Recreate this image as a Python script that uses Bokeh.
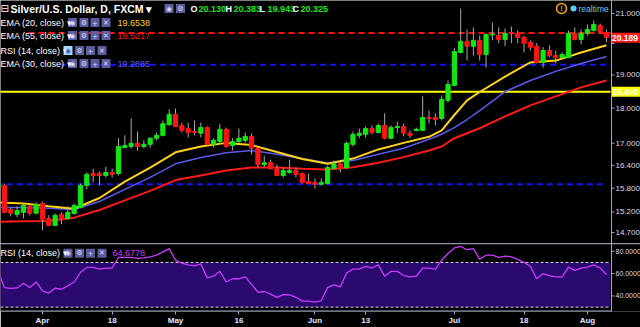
import numpy as np
import pandas as pd
from bokeh.plotting import figure
from bokeh.layouts import column
from bokeh.models import (Range1d, FixedTicker, Span, BoxAnnotation, Label,
                          ColumnDataSource)
from bokeh.embed import file_html
from bokeh.resources import INLINE

# ---------------- data ----------------
dates = pd.bdate_range("2016-03-23", "2016-08-04")

opens = [15.82, 15.87, 15.26, 15.14, 15.19, 15.34, 15.17, 15.41, 15.04, 14.87,
         15.14, 15.04, 15.16, 15.31, 15.87, 16.18, 16.18, 16.13, 16.21, 16.18,
         16.88, 16.91, 17.00, 16.91, 16.97, 17.14, 17.22, 17.52, 17.82, 17.50,
         17.41, 17.33, 17.28, 17.44, 16.97, 17.05, 17.39, 16.94, 17.05, 17.08,
         17.19, 16.86, 16.42, 16.47, 16.31, 16.13, 16.21, 16.26, 16.18, 15.97,
         15.95, 15.90, 15.92, 16.31, 16.44, 16.34, 16.97, 17.22, 17.25, 17.41,
         17.30, 17.50, 17.14, 17.44, 17.47, 17.28, 17.36, 17.36, 17.73, 17.73,
         17.70, 18.23, 18.68, 19.71, 20.07, 19.91, 20.10, 19.64, 20.28, 20.26,
         20.13, 20.36, 20.33, 20.20, 20.04, 19.91, 19.39, 19.77, 19.61, 19.55,
         19.55, 20.33, 20.13, 20.33, 20.43, 20.59, 20.36]
highs = [15.97, 15.92, 15.31, 15.34, 15.41, 15.41, 15.44, 15.46, 15.12, 15.16,
         15.19, 15.34, 15.41, 15.92, 16.21, 16.31, 16.23, 16.36, 16.31, 17.14,
         17.22, 17.70, 17.33, 17.08, 17.16, 17.30, 17.64, 17.96, 17.99, 17.58,
         17.58, 17.64, 17.58, 17.47, 17.14, 17.55, 17.44, 17.14, 17.41, 17.30,
         17.28, 16.88, 16.66, 16.55, 16.42, 16.34, 16.55, 16.34, 16.21, 16.18,
         16.05, 16.05, 16.39, 16.53, 16.47, 17.05, 17.33, 17.41, 17.47, 17.50,
         17.55, 17.85, 17.50, 17.61, 17.55, 17.36, 17.44, 18.35, 17.93, 17.85,
         18.38, 18.83, 19.85, 21.17, 20.46, 20.53, 20.26, 20.33, 20.69, 20.53,
         20.49, 20.56, 20.43, 20.26, 20.10, 20.01, 19.88, 19.94, 19.77, 19.71,
         20.43, 20.53, 20.46, 20.63, 20.76, 20.66, 20.46]
lows = [15.77, 15.17, 15.09, 15.07, 15.04, 15.12, 15.14, 14.75, 14.85, 14.85,
        14.90, 15.02, 15.14, 15.29, 15.77, 15.95, 15.87, 16.08, 16.08, 16.13,
        16.86, 16.86, 16.80, 16.86, 16.88, 17.08, 17.19, 17.50, 17.47, 17.30,
        17.16, 17.22, 17.16, 16.94, 16.88, 17.02, 16.88, 16.80, 17.00, 17.02,
        16.69, 16.34, 16.36, 16.29, 16.13, 16.08, 16.18, 16.08, 15.92, 15.92,
        15.79, 15.87, 15.90, 16.31, 16.21, 16.31, 16.91, 17.14, 17.16, 17.25,
        17.28, 17.11, 17.11, 17.28, 17.19, 17.14, 17.33, 17.36, 17.55, 17.50,
        17.64, 18.17, 18.65, 19.68, 19.45, 19.61, 19.45, 19.23, 20.10, 20.01,
        19.91, 20.01, 20.01, 19.71, 19.77, 19.36, 19.23, 19.55, 19.36, 19.52,
        19.55, 20.10, 19.97, 20.26, 20.39, 20.33, 20.04]
closes = [15.92, 15.19, 15.17, 15.24, 15.36, 15.17, 15.39, 15.02, 14.87, 15.12,
          15.04, 15.19, 15.36, 15.87, 16.16, 16.13, 16.13, 16.21, 16.16, 16.91,
          16.94, 17.00, 16.91, 16.97, 17.14, 17.22, 17.55, 17.82, 17.47, 17.36,
          17.30, 17.30, 17.44, 16.97, 17.08, 17.39, 16.91, 17.05, 17.14, 17.19,
          16.86, 16.42, 16.47, 16.31, 16.13, 16.26, 16.26, 16.16, 15.95, 15.92,
          15.90, 15.95, 16.34, 16.44, 16.31, 17.00, 17.25, 17.28, 17.41, 17.30,
          17.50, 17.14, 17.44, 17.47, 17.28, 17.22, 17.39, 17.73, 17.70, 17.67,
          18.26, 18.71, 19.74, 20.07, 19.91, 20.10, 19.64, 20.29, 20.30, 20.13,
          20.33, 20.35, 20.20, 20.01, 19.88, 19.39, 19.77, 19.61, 19.55, 19.64,
          20.33, 20.13, 20.33, 20.46, 20.63, 20.36, 20.20]

ema_idx = [0, 4, 8, 12, 16, 20, 24, 28, 32, 36, 40, 44, 48, 52, 56, 60, 64, 68,
           70, 72, 74, 76, 80, 84, 88, 92, 96]
ema20 = [15.44, 15.41, 15.34, 15.28, 15.55, 15.97, 16.34, 16.75, 16.91, 17.01,
         16.95, 16.76, 16.57, 16.44, 16.58, 16.83, 17.01, 17.18,
         17.36, 17.80, 18.23, 18.48, 18.95, 19.39, 19.45, 19.71, 19.94]
ema30 = [15.31, 15.31, 15.29, 15.26, 15.46, 15.77, 16.08, 16.44, 16.61, 16.74,
         16.80, 16.70, 16.58, 16.46, 16.53, 16.70, 16.86, 17.11,
         17.25, 17.44, 17.67, 17.93, 18.49, 18.83, 19.11, 19.36, 19.58]
ema55 = [14.96, 14.97, 14.98, 15.06, 15.25, 15.49, 15.73, 16.01, 16.13, 16.26,
         16.34, 16.34, 16.31, 16.29, 16.35, 16.47, 16.62, 16.80,
         16.91, 17.14, 17.28, 17.42, 17.76, 18.08, 18.35, 18.62, 18.83]

rsi = [62, 47.5, 46.7, 47.2, 51.3, 47.5, 52.5, 44.6, 42.6, 47,
       46, 49, 52.5, 61.2, 65.5, 65.5, 64, 65, 65, 74.5,
       74.5, 74.5, 73.6, 74, 75, 76.5, 79.4, 82.3, 72, 69.3,
       67.8, 67, 68.7, 56.2, 57.7, 62, 52.5, 55.4, 55.4, 57.1,
       50.4, 43.2, 44, 41.7, 38.8, 41.2, 40.9, 38.8, 35.4, 35.4,
       34.5, 35.9, 47.5, 49.9, 48.1, 60.6, 64, 64, 66.4, 65,
       67.8, 57.7, 62, 62, 58.3, 57.1, 57.7, 65, 65, 64,
       72, 78, 83, 84.3, 81.4, 82.3, 72.8, 76.5, 76.5, 74.5,
       75.7, 75, 72.8, 69.9, 66.5, 55.4, 60, 58.3, 57.1, 57.1,
       65.8, 62.9, 65, 65.8, 67.8, 65, 59.1]

tick_dates = ["2016-04-01", "2016-04-18", "2016-05-02", "2016-05-16", "2016-06-01",
              "2016-06-13", "2016-07-01", "2016-07-18", "2016-08-01"]
tick_labels = ["Apr", "18", "May", "16", "Jun", "13", "Jul", "18", "Aug"]

price_ticks = [14.7, 15.2, 15.8, 16.4, 17.0, 18.0, 19.0, 20.0, 21.0]
price_tick_labels = ["14.700", "15.200", "15.800", "16.400", "17.000", "18.000",
                     "19.000", "", "21.000"]
rsi_ticks = [40, 60, 80]
rsi_tick_labels = ["40.0000", "60.0000", "80.0000"]

level_values = [20.34, 19.32, 15.90]
level_start = ["2016-03-30", "2016-04-06", "2016-03-23"]
level_end = ["2016-08-05", "2016-08-05", "2016-08-03"]
level_colors = ["#ff1010", "#1414ff", "#1414ff"]
support_level = 18.49
last_price = 20.189

# ---------------- helpers (layout only) ----------------
BAR_PX = 6.337
X0_PX = -2.4


def xi(px):
    return (px - X0_PX) / BAR_PX


def yp(py):
    return 21.0 * np.exp(-(py - 13.0) / 614.0)


def yr(py):
    return 80.0 - (py - 251.0) / 1.15


def date_idx(d):
    d = pd.Timestamp(d)
    if d > dates[-1]:
        return len(dates) - 1 + (d - dates[-1]).days
    return int(dates.get_loc(d))


FONT = "Liberation Sans"
BG = "#000000"
AX = "#a4a4c4"
TXT = "#dcdcf0"
RIGHT = xi(610)
AXIS_X = xi(611)

idx = np.arange(len(dates))
up = [c >= o for o, c in zip(opens, closes)]
src = ColumnDataSource(dict(
    x=idx, o=opens, h=highs, l=lows, c=closes,
    top=[max(o, c) for o, c in zip(opens, closes)],
    bot=[min(o, c) for o, c in zip(opens, closes)],
    col=["#14e614" if u else "#ff1414" for u in up],
))

x_range = Range1d(xi(0), xi(640))


def lab(p, x, y, text, color, size="9.5px", bold=False, align="left",
        bg=None, font=FONT):
    p.add_layout(Label(x=x, y=y, text=text, text_color=color,
                       text_font_size=size, text_font=font,
                       text_font_style="bold" if bold else "normal",
                       text_baseline="middle", text_align=align,
                       background_fill_color=bg))


def right_axis(p, ticks, labels, y_lo, y_hi, size="8px"):
    p.segment(x0=[AXIS_X], y0=[y_lo], x1=[AXIS_X], y1=[y_hi],
              line_color=AX, line_width=1)
    p.segment(x0=[AXIS_X] * len(ticks), y0=ticks,
              x1=[xi(614)] * len(ticks), y1=ticks, line_color=AX, line_width=1)
    for t, s in zip(ticks, labels):
        if s:
            lab(p, xi(615), t, s, TXT, size=size)


# ---------------- price pane ----------------
p1 = figure(width=640, height=243, x_range=x_range,
            y_range=Range1d(yp(243), yp(0)), y_axis_type="log",
            y_axis_location=None, x_axis_location=None,
            output_backend="svg", toolbar_location=None,
            min_border_left=0, min_border_right=0, min_border_top=0,
            min_border_bottom=0, background_fill_color=BG,
            border_fill_color=BG, outline_line_color=None)
p1.grid.visible = False

# horizontal levels
p1.segment(x0=[xi(-5)], y0=[support_level], x1=[RIGHT], y1=[support_level],
           line_color="#ffff00", line_width=2)
for v, s, e, c in zip(level_values, level_start, level_end, level_colors):
    p1.segment(x0=[date_idx(s) - 0.2], y0=[v],
               x1=[min(date_idx(e) + 0.4, RIGHT)], y1=[v],
               line_color=c, line_width=2, line_dash="6 4")

# EMAs
p1.line(ema_idx, ema55, line_color="#ff1a1a", line_width=2)
p1.line(ema_idx, ema30, line_color="#5a5af0", line_width=1.5)
p1.line(ema_idx, ema20, line_color="#ffd21a", line_width=2)

# candles
p1.segment(x0="x", y0="l", x1="x", y1="h", source=src,
           line_color="#a8a8a8", line_width=1)
p1.vbar(x="x", width=0.66, top="top", bottom="bot", source=src,
        fill_color="col", line_color="col", line_width=1)

right_axis(p1, price_ticks, price_tick_labels, yp(250), yp(-5))
lab(p1, xi(611.5), support_level, "18.490 ", "#fffff0", size="8.5px", bold=True,
    bg="#ffff00")
lab(p1, xi(611.5), last_price, "20.189 ", "#ffffff", size="8.5px", bold=True,
    bg="#ff1a1a")

# legend header
lab(p1, xi(0), yp(8), "⊟", "#ffffff", size="10px", font="DejaVu Sans")
lab(p1, xi(10), yp(8), "Silver/U.S. Dollar, D, FXCM ▾", "#ffffff",
    size="10.5px", bold=True)
ohlc = [("O", "20.130", 190), ("H", "20.383", 225), ("L", "19.943", 259),
        ("C", "20.325", 292)]
for k, vtxt, px in ohlc:
    lab(p1, xi(px), yp(8), k, "#ffffff", size="9px", bold=True)
    lab(p1, xi(px + 8), yp(8), vtxt, "#19e619", size="9px", bold=True)

BTN = "#5c5c9c"
ICON = "#d8d8ff"


def buttons(p, yv, xs, first_hi=False):
    cols = [BTN] * len(xs)
    if first_hi:
        cols[0] = "#a8dcf8"
    p.scatter(x=[xi(v) for v in xs], y=[yv] * len(xs), marker="square",
              size=9, fill_color=cols, line_color=None)
    icons = ["◉", "⚙", "+", "✕"]
    for k, v in enumerate(xs):
        lab(p, xi(v), yv, icons[k], "#3a5ad8" if (first_hi and k == 0) else ICON,
            size="7px", align="center", font="DejaVu Sans")


buttons(p1, yp(8), [168.5, 180], False)

rows = [(22, "EMA (20, close) ▾", "19.6538", "#ffd21a", False),
        (35, "EMA (55, close) ▾", "18.5217", "#ff1a1a", False),
        (50, "RSI (14, close) ▾", None, None, True),
        (63, "EMA (30, close) ▾", "19.2885", "#5a5aff", False)]
for py, name, vtxt, vcol, hi in rows:
    lab(p1, xi(0), yp(py), name, "#ffffff", size="9px")
    if hi:
        buttons(p1, yp(py), [67.5, 79, 90, 101.5], True)
    else:
        buttons(p1, yp(py), [72, 83.5, 94.5, 105.5], False)
    if vtxt:
        lab(p1, xi(117), yp(py), vtxt, vcol, size="9px")

# realtime indicator
p1.scatter(x=[xi(561)], y=[yp(8)], marker="circle", size=10,
           fill_color=None, line_color="#f0a800", line_width=1.5)
lab(p1, xi(561), yp(8), "!", "#f0a800", size="7px", bold=True, align="center")
p1.scatter(x=[xi(573)], y=[yp(8)], marker="circle", size=6,
           fill_color="#5ad0f0", line_color=None)
lab(p1, xi(578), yp(8), "realtime", "#6ac8f0", size="8.5px")

# ---------------- RSI pane ----------------
p2 = figure(width=640, height=84, x_range=x_range,
            y_range=Range1d(yr(313), yr(243)), y_axis_location=None,
            output_backend="svg", toolbar_location=None,
            min_border_left=0, min_border_right=0, min_border_top=0,
            min_border_bottom=0, background_fill_color=BG,
            border_fill_color=BG, outline_line_color=None)
p2.grid.visible = False

tick_idx = [date_idx(d) for d in tick_dates]
p2.xaxis.ticker = FixedTicker(ticks=tick_idx)
p2.xaxis.major_label_overrides = {i: s for i, s in zip(tick_idx, tick_labels)}
p2.xaxis.axis_line_color = None
p2.xaxis.major_tick_line_color = AX
p2.xaxis.major_tick_in = 0
p2.xaxis.major_tick_out = 3
p2.xaxis.minor_tick_line_color = None
p2.xaxis.major_label_standoff = 1
p2.xaxis.major_label_text_font_size = "8px"
p2.xaxis.major_label_text_font_style = "bold"
p2.xaxis.major_label_text_color = "#e8e8ff"
p2.xaxis.major_label_text_font = FONT

p2.add_layout(BoxAnnotation(left=xi(-5), right=RIGHT, bottom=30, top=70,
                            fill_color="#2a0a6e", fill_alpha=1.0,
                            line_color=None, level="underlay"))
for lv in (70, 30):
    p2.segment(x0=[xi(-5)], y0=[lv], x1=[RIGHT], y1=[lv], line_color="#d8d8d8",
               line_width=1, line_dash="3 2")
p2.add_layout(Span(location=yr(243), dimension="width", line_color=AX,
                   line_width=1.5))
p2.segment(x0=[xi(-5)], y0=[yr(313)], x1=[AXIS_X], y1=[yr(313)],
           line_color=AX, line_width=2)
p2.line(idx, rsi, line_color="#c83cff", line_width=1.3)

right_axis(p2, rsi_ticks, rsi_tick_labels, yr(320), yr(240), size="7px")

lab(p2, xi(0), yr(253), "RSI (14, close) ▾", "#ffffff", size="9px")
buttons(p2, yr(253), [67.5, 79, 90, 101.5], False)
lab(p2, xi(112), yr(253), "64.6778", "#c83cff", size="9px")

layout = column(p1, p2, spacing=0)
open("out.html", "w").write(file_html(layout, INLINE))
